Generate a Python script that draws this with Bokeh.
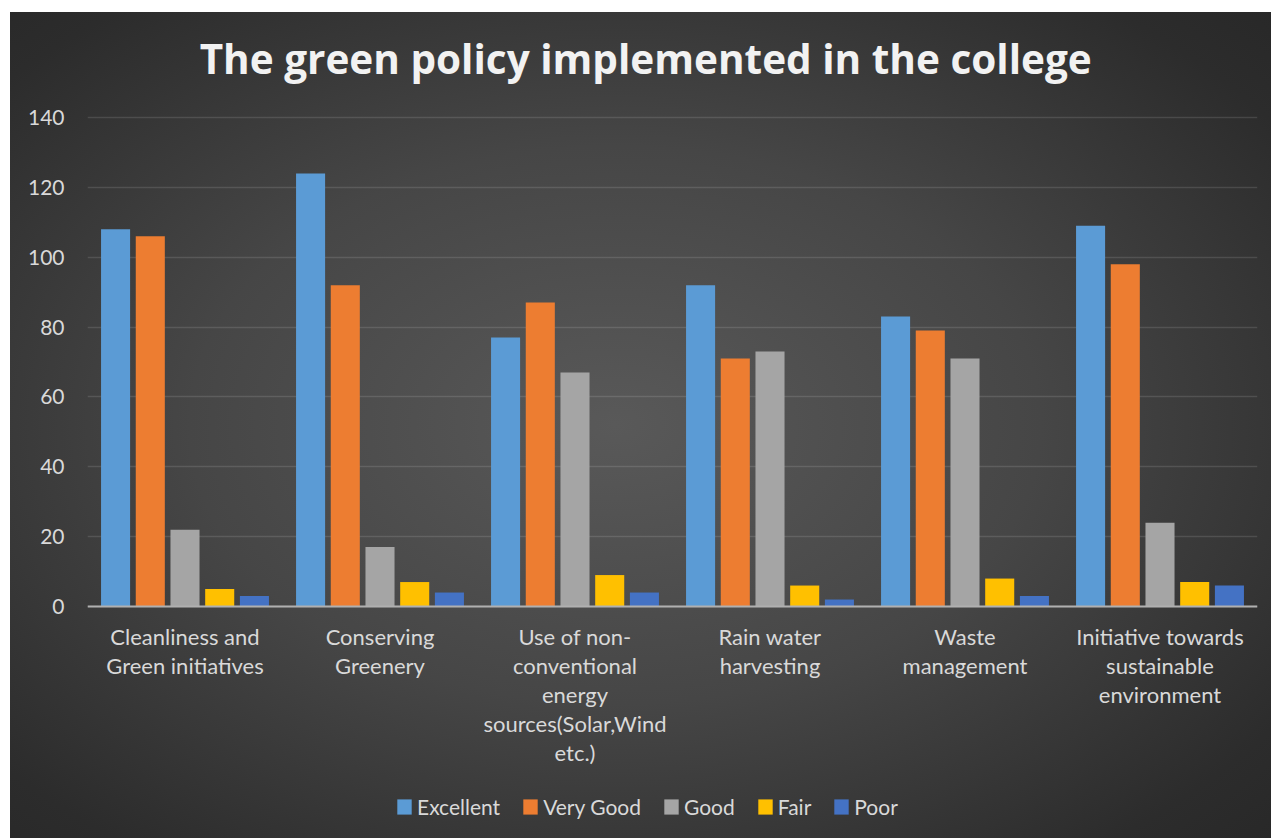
from bokeh.plotting import figure
from bokeh.models import FactorRange, Range1d, Legend, LegendItem, FixedTicker, ColumnDataSource, Label
from bokeh.transform import dodge
from bokeh.embed import file_html
from bokeh.resources import INLINE

title_text = "The green policy implemented in the college"
categories = [
    "Cleanliness and Green initiatives",
    "Conserving Greenery",
    "Use of non-conventional energy sources(Solar,Wind etc.)",
    "Rain water harvesting",
    "Waste management",
    "Initiative towards sustainable environment",
]
tick_labels = [
    "Cleanliness and\nGreen initiatives",
    "Conserving\nGreenery",
    "Use of non-\nconventional\nenergy\nsources(Solar,Wind\netc.)",
    "Rain water\nharvesting",
    "Waste\nmanagement",
    "Initiative towards\nsustainable\nenvironment",
]
y_ticks = [0, 20, 40, 60, 80, 100, 120, 140]
series = ["Excellent", "Very Good", "Good", "Fair", "Poor"]
excellent = [108, 124, 77, 92, 83, 109]
very_good = [106, 92, 87, 71, 79, 98]
good = [22, 17, 67, 73, 71, 24]
fair = [5, 7, 9, 6, 8, 7]
poor = [3, 4, 4, 2, 3, 6]
colors = ["#5b9bd5", "#ed7d31", "#a5a5a5", "#ffc000", "#4472c4"]

FONT = "Lato"
TXT = "#d9d9d9"

label_of = dict(zip(categories, tick_labels))
src = ColumnDataSource(dict(cat=[label_of[c] for c in categories], Excellent=excellent,
                            VeryGood=very_good, Good=good, Fair=fair, Poor=poor))
cols = ["Excellent", "VeryGood", "Good", "Fair", "Poor"]

# frame covers the whole chart area; the value axis spans 0..140 (3.493 px per unit)
p = figure(x_range=FactorRange(*[label_of[c] for c in categories], range_padding=0),
           y_range=Range1d(-66.42, 170.06),
           width=1261, height=826,
           output_backend="svg", toolbar_location=None,
           min_border_left=77, min_border_right=14, min_border_top=0, min_border_bottom=0)
p.margin = (12, 0, 0, 10)
p.styles = {"background": "radial-gradient(ellipse 75% 75% at 48% 50%, #595959 0%, #464646 45%, #2c2c2c 85%, #272727 100%)"}
p.border_fill_alpha = 0
p.background_fill_alpha = 0
p.outline_line_color = None

title = Label(x=0.575, y=157.0, text=title_text, text_font="Open Sans", text_font_style="bold",
              text_font_size="40.5px", text_color="#f2f2f2", text_align="left",
              text_baseline="alphabetic")
p.add_layout(title)

pitch = 0.178
width = 0.149
items = []
for i, (c, name, color) in enumerate(zip(cols, series, colors)):
    r = p.vbar(x=dodge("cat", (i - 2) * pitch, range=p.x_range), top=c, width=width,
               source=src, fill_color=color, line_color=None)
    items.append(LegendItem(label=name, renderers=[r]))

p.xgrid.grid_line_color = None
p.ygrid.grid_line_color = "#ffffff"
p.ygrid.grid_line_alpha = 0.12
p.ygrid.grid_line_width = 1.5

p.yaxis.ticker = FixedTicker(ticks=y_ticks)
p.yaxis.axis_line_color = None
p.yaxis.major_tick_line_color = None
p.yaxis.minor_tick_line_color = None
p.yaxis.major_tick_out = 0
p.yaxis.major_tick_in = 0
p.yaxis.major_label_standoff = 23
p.yaxis.major_label_text_font = FONT
p.yaxis.major_label_text_font_size = "21px"
p.yaxis.major_label_text_color = TXT

p.xaxis.fixed_location = 0
p.xaxis.axis_line_color = "#b0b0b0"
p.xaxis.axis_line_width = 2
p.xaxis.major_tick_line_color = None
p.xaxis.major_tick_out = 0
p.xaxis.major_tick_in = 0
p.xaxis.major_label_standoff = 16
p.xaxis.major_label_text_font = FONT
p.xaxis.major_label_text_font_size = "22px"
p.xaxis.major_label_text_color = TXT
p.xaxis.major_label_text_line_height = 1.08

legend = Legend(items=items, orientation="horizontal", location=(308, 19),
                label_text_font=FONT, label_text_font_size="21px", label_text_color=TXT,
                glyph_width=18, glyph_height=19, label_standoff=4, spacing=21, padding=0,
                label_height=20, background_fill_alpha=0, border_line_color=None, margin=0)
p.add_layout(legend, "center")

open("out.html", "w").write(file_html(p, INLINE))
